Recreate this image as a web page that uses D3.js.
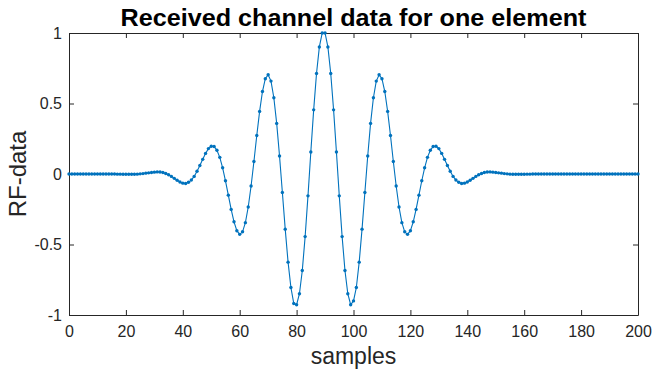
<!DOCTYPE html>
<html>
<head>
<meta charset="utf-8">
<script src="https://cdn.jsdelivr.net/npm/d3@7"></script>
<style>
  html, body { margin: 0; padding: 0; background: #fff; }
  svg { display: block; }
  text { font-family: "Liberation Sans", Arial, Helvetica, sans-serif; }
</style>
</head>
<body>
<svg id="chart" width="652" height="373"></svg>
<script>
// ---- data ----
const titleText = "Received channel data for one element";
const xLabel = "samples";
const yLabel = "RF-data";
const xTicks = [0, 20, 40, 60, 80, 100, 120, 140, 160, 180, 200];
const yTicks = [-1, -0.5, 0, 0.5, 1];
const yTickLabels = ["-1", "-0.5", "0", "0.5", "1"];
const xDomain = [0, 200];
const yDomain = [-1, 1];
// RF sample values, one per sample index 0..200
const rfData = [
  0, 0, 0, 0, 0, 0, 0, 0, 0, 0,
  0, 0, 0, 0, 0, 0, 0, -0.001, -0.001, -0.002,
  -0.002, -0.002, -0.002, -0.002, -0.001, 0.001, 0.003, 0.006, 0.008, 0.011,
  0.013, 0.015, 0.014, 0.011, 0.004, -0.005, -0.017, -0.031, -0.044, -0.057,
  -0.065, -0.067, -0.059, -0.043, -0.017, 0.019, 0.060, 0.104, 0.146, 0.180,
  0.197, 0.195, 0.168, 0.118, 0.044, -0.048, -0.150, -0.251, -0.339, -0.402,
  -0.428, -0.410, -0.345, -0.234, -0.085, 0.089, 0.273, 0.444, 0.585, 0.676,
  0.704, 0.659, 0.541, 0.359, 0.128, -0.131, -0.391, -0.625, -0.805, -0.918,
  -0.927, -0.849, -0.684, -0.444, -0.155, 0.156, 0.455, 0.713, 0.901, 1.000,
  1.000, 0.901, 0.713, 0.455, 0.156, -0.155, -0.444, -0.684, -0.849, -0.927,
  -0.900, -0.805, -0.625, -0.391, -0.131, 0.128, 0.359, 0.541, 0.659, 0.704,
  0.676, 0.585, 0.444, 0.273, 0.089, -0.085, -0.234, -0.345, -0.410, -0.428,
  -0.402, -0.339, -0.251, -0.150, -0.048, 0.044, 0.118, 0.168, 0.195, 0.197,
  0.180, 0.146, 0.104, 0.060, 0.019, -0.017, -0.043, -0.059, -0.067, -0.065,
  -0.057, -0.044, -0.031, -0.017, -0.005, 0.004, 0.011, 0.014, 0.015, 0.013,
  0.011, 0.008, 0.006, 0.003, 0.001, -0.001, -0.002, -0.002, -0.002, -0.002,
  -0.002, -0.001, -0.001, 0, 0, 0, 0, 0, 0, 0,
  0, 0, 0, 0, 0, 0, 0, 0, 0, 0,
  0, 0, 0, 0, 0, 0, 0, 0, 0, 0,
  0, 0, 0, 0, 0, 0, 0, 0, 0, 0,
  0
];

// ---- layout ----
const W = 652, H = 373;
const margin = { top: 33, right: 14, bottom: 58, left: 69 };
const iw = W - margin.left - margin.right;
const ih = H - margin.top - margin.bottom;
const axisColor = "#262626";
const lineColor = "#0072BD";

const svg = d3.select("#chart");
const g = svg.append("g").attr("transform", `translate(${margin.left},${margin.top})`);

const x = d3.scaleLinear().domain(xDomain).range([0, iw]);
const y = d3.scaleLinear().domain(yDomain).range([ih, 0]);

const points = rfData.map((v, i) => ({ s: i, v }));

// axes
const tickLen = 5;
const axBottom = g.append("g").attr("transform", `translate(0,${ih})`)
  .call(d3.axisBottom(x).tickValues(xTicks).tickFormat(d3.format("d"))
    .tickSizeInner(-tickLen).tickSizeOuter(0).tickPadding(11));
const axTop = g.append("g")
  .call(d3.axisTop(x).tickValues(xTicks).tickFormat("")
    .tickSizeInner(-tickLen).tickSizeOuter(0));
const axLeft = g.append("g")
  .call(d3.axisLeft(y).tickValues(yTicks).tickFormat((d, i) => yTickLabels[i])
    .tickSizeInner(-tickLen).tickSizeOuter(0).tickPadding(7));
const axRight = g.append("g").attr("transform", `translate(${iw},0)`)
  .call(d3.axisRight(y).tickValues(yTicks).tickFormat("")
    .tickSizeInner(-tickLen).tickSizeOuter(0));

[axBottom, axTop, axLeft, axRight].forEach(a => {
  a.select(".domain").attr("stroke", axisColor).attr("stroke-width", 1);
  a.selectAll(".tick line").attr("stroke", axisColor).attr("stroke-width", 1);
  a.selectAll(".tick text").attr("fill", axisColor)
    .style("font-size", "16px")
    .style("font-family", '"Liberation Sans", Arial, Helvetica, sans-serif');
});

// line
const lineGen = d3.line().x(d => x(d.s)).y(d => y(d.v));
g.append("path").datum(points)
  .attr("fill", "none").attr("stroke", lineColor).attr("stroke-width", 1.1)
  .attr("d", lineGen);

// markers
g.append("g").selectAll("circle").data(points).enter().append("circle")
  .attr("cx", d => x(d.s)).attr("cy", d => y(d.v)).attr("r", 1.7)
  .attr("fill", lineColor);

// titles
svg.append("text").attr("x", margin.left + iw / 2).attr("y", 26)
  .attr("text-anchor", "middle").attr("fill", "#000")
  .attr("textLength", 466).attr("lengthAdjust", "spacingAndGlyphs")
  .style("font-size", "24px").style("font-weight", "bold").text(titleText);

svg.append("text").attr("x", margin.left + iw / 2).attr("y", 364)
  .attr("text-anchor", "middle").attr("fill", axisColor)
  .style("font-size", "23px").text(xLabel);

svg.append("text")
  .attr("transform", `translate(26,${margin.top + ih / 2}) rotate(-90)`)
  .attr("text-anchor", "middle").attr("fill", axisColor)
  .style("font-size", "24px").text(yLabel);
</script>
</body>
</html>
